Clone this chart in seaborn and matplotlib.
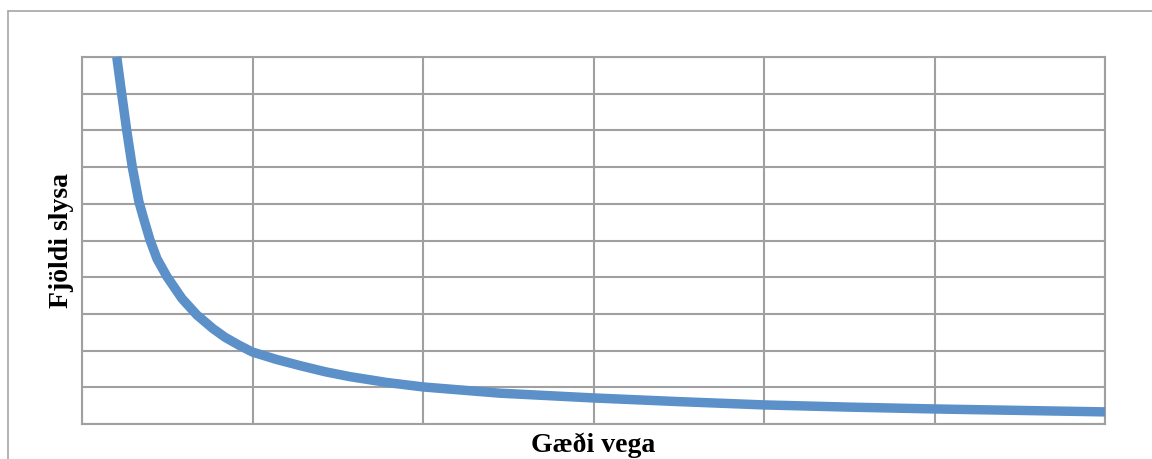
import matplotlib
matplotlib.use("Agg")
import matplotlib.pyplot as plt
from matplotlib.lines import Line2D
import seaborn as sns
import pandas as pd

# Data (x in grid columns, y in grid rows)
gaedi_vega = [0.204, 0.233, 0.262, 0.295, 0.334, 0.364, 0.399, 0.44, 0.499,
              0.586, 0.674, 0.768, 0.84, 0.92, 1.0, 1.14, 1.279, 1.43, 1.572, 1.79, 2.0,
              2.45, 3.0, 3.5, 4.0, 4.5, 5.0, 5.5, 6.0]
fjoldi_slysa = [10.0, 8.99, 8.01, 7.0, 6.05, 5.56, 5.01, 4.50, 4.01,
                3.42, 2.97, 2.60, 2.36, 2.15, 1.96, 1.76, 1.59, 1.42, 1.29, 1.13, 1.01,
                0.84, 0.71, 0.61, 0.52, 0.46, 0.41, 0.37, 0.33]
x_label = "Gæði vega"
y_label = "Fjöldi slysa"

df = pd.DataFrame({"x": gaedi_vega, "y": fjoldi_slysa})

sns.set_theme(style="white")
plt.rcParams['font.family'] = ['Liberation Serif', 'DejaVu Serif']

W, H = 1152, 459
fig = plt.figure(figsize=(W / 100, H / 100), dpi=100)
ax = fig.add_axes([82 / W, 1 - 424 / H, (1105 - 82) / W, (424 - 57) / H])

grid_c = "#A0A0A0"
sns.lineplot(data=df, x="x", y="y", ax=ax, color="#5B90C8", linewidth=6.8,
             sort=False, solid_capstyle="butt", solid_joinstyle="round",
             clip_on=False, zorder=3)

ax.set_xlim(0, 6)
ax.set_ylim(0, 10)
ax.set_xticks(range(0, 7))
ax.set_yticks(range(0, 11))
ax.tick_params(length=0, labelbottom=False, labelleft=False)
ax.grid(True, color=grid_c, linewidth=1.5)
ax.set_axisbelow(True)
for s in ax.spines.values():
    s.set_visible(True)
    s.set_color(grid_c)
    s.set_linewidth(1.5)

ax.set_xlabel(x_label, fontsize=20, fontweight="bold", color="black", labelpad=6)
ax.set_ylabel(y_label, fontsize=20, fontweight="bold", color="black", labelpad=6)

# outer chart frame (left and top visible)
fig.add_artist(Line2D([8 / W, 8 / W], [0, 1 - 11 / H], transform=fig.transFigure,
                      color="#A6A6A6", linewidth=1.2))
fig.add_artist(Line2D([8 / W, 1], [1 - 11 / H, 1 - 11 / H], transform=fig.transFigure,
                      color="#A6A6A6", linewidth=1.2))

fig.savefig("out.png", dpi=100, facecolor="white")
